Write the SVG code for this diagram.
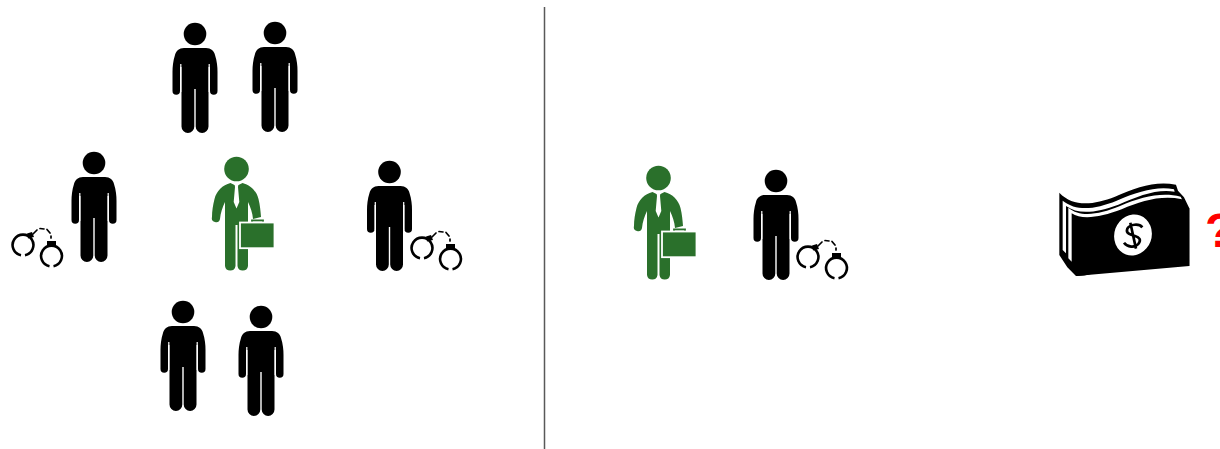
<svg xmlns="http://www.w3.org/2000/svg" xmlns:xlink="http://www.w3.org/1999/xlink" width="1220" height="449" viewBox="0 0 1220 449">
<style>
.ink{fill:#000}
.paper{fill:#fff}
.suit{fill:#2a702b}
.divider{stroke:#595959;stroke-width:1.5;fill:none}
.q{font:bold 48px "Liberation Sans",Arial,sans-serif;fill:#f00}
</style>
<defs>
<symbol id="person" overflow="visible" viewBox="-30 -15 60 120" width="60" height="120" x="-30" y="-15">
<circle cx="0" cy="0" r="11.3" fill="#000"/>
<path fill="#000" d="M-11,14C-16,14 -19,17 -20,21C-22,27 -22.5,33 -22.5,38V57A3.7,3.7 0 0 0 -15,57V33L-13.5,33V55H-13.5V92.5A6.4,6.4 0 0 0 -0.7,92.5V55H0.7V92.5A6.4,6.4 0 0 0 13.5,92.5V33L15,33V57A3.7,3.7 0 0 0 22.5,57V38C22.5,33 22,27 20,21C19,17 16,14 11,14Z"/>
<path d="M-14.2,30V58M14.2,30V58" stroke="#fff" stroke-width="1.2" fill="none"/>
</symbol>
<symbol id="exec" overflow="visible" viewBox="-30 -15 70 120" width="70" height="120" x="-30" y="-15">
<circle cx="0" cy="0" r="12.3" fill="#2a702b"/>
<path fill="#2a702b" d="M-6,14C-14,16 -20,22 -22,30C-23.500,36 -24.500,42 -24.500,48A4,4 0 0 0 -16.500,50C-16,44 -14,38 -11.500,33V97A5.300,5.300 0 0 0 -1,97V56H1V97A5.300,5.300 0 0 0 11.500,97V33C14,38 16,44 16.500,50L24.500,48C24,42 23.500,36 22,30C20,22 14,16 6,14L0,17Z"/>
<path fill="#fff" d="M-2,14.500H2L1.500,18L2.800,33L0,39.500L-2.800,33L-1.500,18Z"/>
<path d="M15.500,54V51.500H26.500V54" fill="none" stroke="#2a702b" stroke-width="1.800"/>
<rect x="3.500" y="53.500" width="34.500" height="25.700" fill="#2a702b" stroke="#fff" stroke-width="1.800"/>
</symbol>
<symbol id="cuffs" overflow="visible" viewBox="-12 -20 60 50" width="60" height="50" x="-12" y="-20">
<g fill="none" stroke="#000">
<path stroke-width="2.600" d="M-2,10.200A10.400,10.400 0 1 1 2,10.200"/>
<path stroke-width="2.600" d="M26.500,21.200A10.400,10.400 0 1 1 30.500,21.200"/>
<path stroke-width="1.700" stroke-linecap="round" d="M10,-11L14,-15M17,-16.500L21,-16M24,-15.500L27,-12M28,-9V-7"/>
</g>
<path fill="#000" d="M4,-11.500L9,-13L11,-8L5,-6.500ZM24,-4H33V1H24Z"/>
</symbol>
</defs>
<g id="divider"><line class="divider" x1="544.500" y1="7" x2="544.500" y2="449"/></g>
<g id="person-top-left"><use xlink:href="#person" href="#person" x="195" y="34"/></g>
<g id="person-top-right"><use href="#person" x="275" y="33"/></g>
<g id="person-left"><use href="#person" x="94" y="163"/><use href="#cuffs" x="23" y="245"/></g>
<g id="executive-left"><use href="#exec" x="236.500" y="169"/></g>
<g id="person-right"><use href="#person" x="389.500" y="172"/><use href="#cuffs" x="422" y="248"/></g>
<g id="person-bottom-left"><use href="#person" x="183" y="312"/></g>
<g id="person-bottom-right"><use href="#person" x="261" y="317"/></g>
<g id="executive-right"><use href="#exec" x="658.500" y="178"/></g>
<g id="person-right-panel"><use href="#person" x="776" y="181"/><use href="#cuffs" x="808" y="257"/></g>
<g id="money" transform="translate(1040 170) scale(.3333)">
<path class="ink" d="M58,68C100,112 160,105 225,80C290,52 345,32 408,44L414,62L432,82L448,115V288L108,318L82,292L58,255Z"/>
<path class="paper" d="M68,92C110,125 165,118 230,92C295,65 350,48 402,58L404,65C350,56 295,78 235,104C170,128 115,135 78,108L78,250L68,240Z"/>
<path class="paper" d="M85,113C120,142 175,135 240,108C305,80 365,66 422,80L426,88C365,75 305,92 245,118C180,143 125,150 95,130L95,275L85,265Z"/>
<path class="ink" d="M105,150C150,165 200,145 250,125C310,100 380,85 448,115V288C400,258 350,245 295,258C230,275 165,320 108,318Z"/>
<ellipse class="paper" cx="279" cy="195" rx="56" ry="62" transform="rotate(20 279 195)"/>
<path fill="none" stroke="#000" stroke-width="8" d="M307,172C298,160 270,162 262,176C256,190 272,195 285,198C298,202 305,210 295,222C285,234 262,232 252,218M271,158L288,236"/>
</g>
<g id="question-mark"><text class="q" x="1205" y="247">?</text></g>
</svg>
